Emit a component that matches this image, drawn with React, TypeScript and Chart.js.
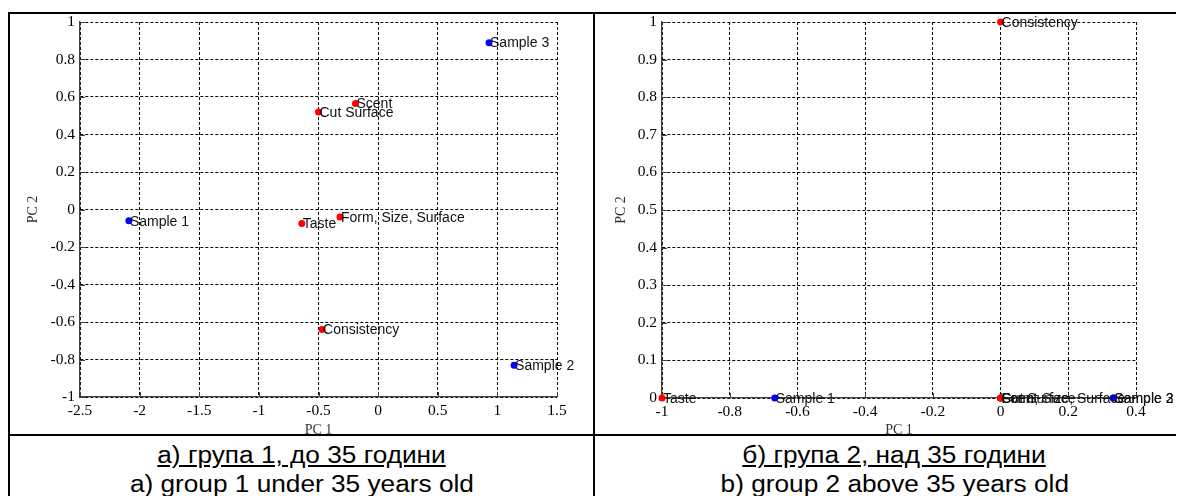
import React, { useEffect, useRef } from 'react';
import { Chart, registerables } from 'chart.js';

Chart.register(...registerables);

// ---------- data: group 1 (under 35) ----------
const g1AttrNames = ['Taste', 'Form, Size, Surface', 'Cut Surface', 'Scent', 'Consistency'];
const g1AttrX = [-0.64, -0.32, -0.5, -0.19, -0.47];
const g1AttrY = [-0.075, -0.04, 0.52, 0.565, -0.64];
const g1SampleNames = ['Sample 1', 'Sample 2', 'Sample 3'];
const g1SampleX = [-2.09, 1.14, 0.93];
const g1SampleY = [-0.06, -0.83, 0.89];

// ---------- data: group 2 (above 35) ----------
const g2AttrNames = ['Taste', 'Cut Surface', 'Form, Size, Surface', 'Scent', 'Consistency'];
const g2AttrX = [-1, 0, 0, 0, 0];
const g2AttrY = [0, 0, 0, 0, 1];
const g2SampleNames = ['Sample 1', 'Sample 2', 'Sample 3'];
const g2SampleX = [-0.667, 0.333, 0.333];
const g2SampleY = [0, 0, 0];

// ---------- axis ranges / ticks ----------
const g1XRange = [-2.5, 1.5, 0.5];
const g1YRange = [-1, 1, 0.2];
const g2XRange = [-1, 0.4, 0.2];
const g2YRange = [0, 1, 0.1];

const xTitle = 'PC 1';
const yTitle = 'PC 2';
const captionsLeft = ['а) група 1, до 35 години', 'a) group 1 under 35 years old'];
const captionsRight = ['б) група 2, над 35 години', 'b) group 2 above 35 years old'];

const RED = '#ff0000';
const BLUE = '#0000ff';
const SERIF = '"Liberation Serif", "Times New Roman", serif';
const SANS = '"Liberation Sans", Arial, sans-serif';

const pointNames = {
  id: 'pointNames',
  afterDatasetsDraw(chart: any) {
    const ctx = chart.ctx;
    ctx.save();
    ctx.font = '14px ' + SANS;
    ctx.fillStyle = '#111';
    ctx.textBaseline = 'middle';
    ctx.textAlign = 'left';
    chart.data.datasets.forEach((ds: any, di: number) => {
      const meta = chart.getDatasetMeta(di);
      meta.data.forEach((el: any, i: number) => {
        ctx.fillText(ds.names[i], el.x + 1, el.y + 1);
      });
    });
    ctx.restore();
  },
};

const innerTicks = {
  id: 'innerTicks',
  beforeDatasetsDraw(chart: any) {
    const { ctx, chartArea: a, scales } = chart;
    const x = scales.x;
    const y = scales.y;
    ctx.save();
    ctx.strokeStyle = '#404040';
    ctx.lineWidth = 1;
    ctx.beginPath();
    x.ticks.forEach((t: any) => {
      const px = Math.round(x.getPixelForValue(t.value)) + 0.5;
      ctx.moveTo(px, a.bottom);
      ctx.lineTo(px, a.bottom - 5);
    });
    y.ticks.forEach((t: any) => {
      const py = Math.round(y.getPixelForValue(t.value)) + 0.5;
      ctx.moveTo(a.left, py);
      ctx.lineTo(a.left + 5, py);
    });
    ctx.stroke();
    ctx.restore();
  },
};

const fmt = (v: any) => String(Math.round(Number(v) * 10) / 10);

function makeConfig(p: any) {
  const axisCommon = (range: number[]) => ({
    type: 'linear',
    min: range[0],
    max: range[1],
    grid: { color: '#000', lineWidth: 1, drawTicks: false },
    border: { display: true, color: '#404040', width: 1.3, dash: [3, 2] },
  });
  return {
    type: 'scatter',
    data: {
      datasets: [
        {
          names: p.attrNames,
          data: p.attrX.map((x: number, i: number) => ({ x, y: p.attrY[i] })),
          backgroundColor: RED,
          borderColor: RED,
          pointRadius: 3.5,
          pointBorderWidth: 0,
          clip: false,
        },
        {
          names: p.sampleNames,
          data: p.sampleX.map((x: number, i: number) => ({ x, y: p.sampleY[i] })),
          backgroundColor: BLUE,
          borderColor: BLUE,
          pointRadius: 3.5,
          pointBorderWidth: 0,
          clip: false,
        },
      ],
    },
    options: {
      responsive: false,
      animation: false,
      events: [],
      layout: { padding: { top: 8, right: p.padRight, left: 0, bottom: 0 } },
      plugins: { legend: { display: false }, tooltip: { enabled: false } },
      scales: {
        x: {
          ...axisCommon(p.xRange),
          position: 'bottom',
          ticks: {
            stepSize: p.xRange[2],
            autoSkip: false,
            maxRotation: 0,
            padding: 5,
            color: '#000',
            font: { family: SERIF, size: 15.5 },
            callback: fmt,
          },
          title: {
            display: true,
            text: xTitle,
            color: '#333',
            font: { family: SERIF, size: 14, lineHeight: 1 },
            padding: { top: 0, bottom: -3 },
          },
          afterFit: (s: any) => {
            s.height = p.xHeight;
          },
        },
        y: {
          ...axisCommon(p.yRange),
          position: 'left',
          ticks: {
            stepSize: p.yRange[2],
            autoSkip: false,
            padding: 5,
            color: '#000',
            font: { family: SERIF, size: 15.5, lineHeight: 0.3 },
            callback: fmt,
          },
          title: {
            display: true,
            text: yTitle,
            color: '#333',
            font: { family: SERIF, size: 14, lineHeight: 1 },
            padding: { top: p.yTitlePad, bottom: 0 },
          },
          afterFit: (s: any) => {
            s.width = p.yWidth;
          },
        },
      },
    },
    plugins: [innerTicks, pointNames],
  };
}

function Panel(props: { cfg: any; left: number; width: number }) {
  const ref = useRef<HTMLCanvasElement | null>(null);
  useEffect(() => {
    if (!ref.current) return;
    const chart = new Chart(ref.current, makeConfig(props.cfg) as any);
    return () => chart.destroy();
  }, []);
  return (
    <canvas
      ref={ref}
      width={props.width}
      height={420}
      style={{ position: 'absolute', left: props.left, top: 6, width: props.width, height: 420 }}
    />
  );
}

function Caption(props: { lines: string[]; center: number }) {
  const base: React.CSSProperties = {
    position: 'absolute',
    left: props.center - 300,
    width: 600,
    textAlign: 'center',
    fontFamily: SANS,
    fontSize: 23,
    lineHeight: '26px',
    color: '#000',
    whiteSpace: 'nowrap',
  };
  const inner: React.CSSProperties = { display: 'inline-block', transform: 'scaleX(1.14)', transformOrigin: 'center' };
  return (
    <>
      <div style={{ ...base, top: 434 }}>
        <span style={{ ...inner, textDecoration: 'underline' }}>{props.lines[0]}</span>
      </div>
      <div style={{ ...base, top: 463 }}>
        <span style={inner}>{props.lines[1]}</span>
      </div>
    </>
  );
}

export default function App() {
  const cfg1 = {
    attrNames: g1AttrNames, attrX: g1AttrX, attrY: g1AttrY,
    sampleNames: g1SampleNames, sampleX: g1SampleX, sampleY: g1SampleY,
    xRange: g1XRange, yRange: g1YRange,
    yWidth: 70, xHeight: 37, padRight: 36, yTitlePad: 16,
  };
  const cfg2 = {
    attrNames: g2AttrNames, attrX: g2AttrX, attrY: g2AttrY,
    sampleNames: g2SampleNames, sampleX: g2SampleX, sampleY: g2SampleY,
    xRange: g2XRange, yRange: g2YRange,
    yWidth: 67, xHeight: 36, padRight: 48, yTitlePad: 19.5,
  };
  const line = (s: React.CSSProperties) => <div style={{ position: 'absolute', background: '#000', ...s }} />;
  return (
    <div style={{ position: 'relative', width: 1176, height: 488, overflow: 'hidden', background: '#fff' }}>
      {line({ left: 0, top: 4, width: 1200, height: 2 })}
      {line({ left: 0, top: 4, width: 2, height: 500 })}
      {line({ left: 585, top: 4, width: 2, height: 500 })}
      {line({ left: 0, top: 426, width: 1200, height: 2 })}
      <Panel cfg={cfg1} left={2} width={583} />
      <Panel cfg={cfg2} left={587} width={589} />
      <Caption lines={captionsLeft} center={293.5} />
      <Caption lines={captionsRight} center={886.5} />
    </div>
  );
}
